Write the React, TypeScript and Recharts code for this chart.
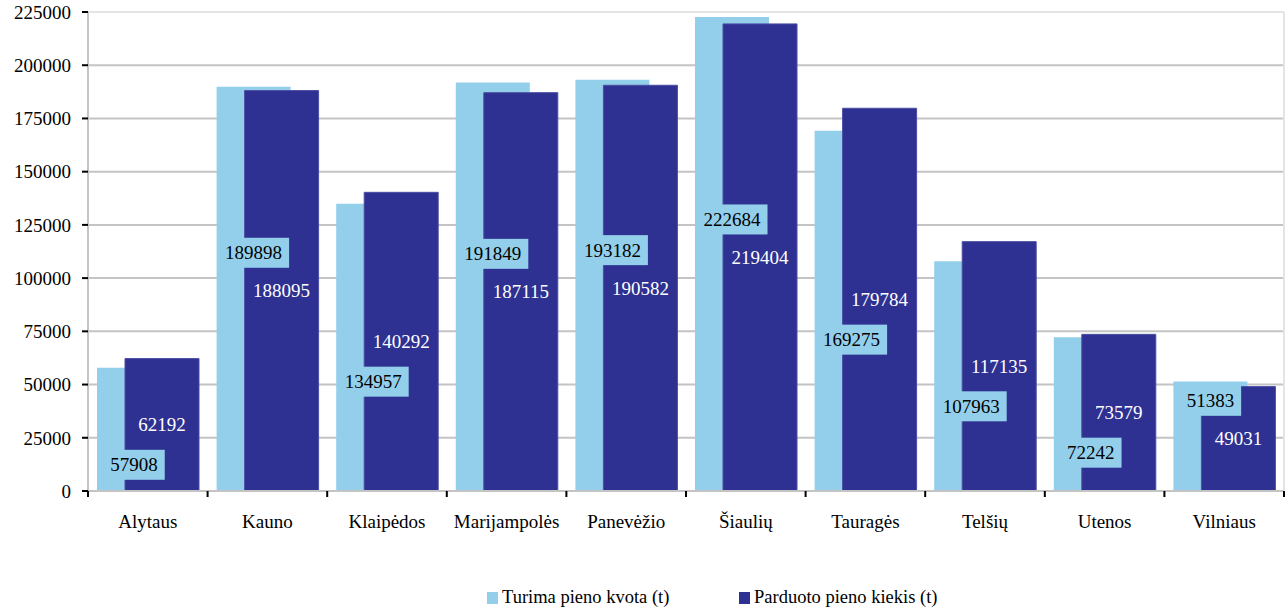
import { BarChart, Bar, XAxis, YAxis, CartesianGrid, Legend, LabelList, ReferenceLine } from 'recharts';

const regions = ['Alytaus', 'Kauno', 'Klaipėdos', 'Marijampolės', 'Panevėžio', 'Šiaulių', 'Tauragės', 'Telšių', 'Utenos', 'Vilniaus'];
const quota = [57908, 189898, 134957, 191849, 193182, 222684, 169275, 107963, 72242, 51383];
const sold = [62192, 188095, 140292, 187115, 190582, 219404, 179784, 117135, 73579, 49031];
const yTicks = [0, 25000, 50000, 75000, 100000, 125000, 150000, 175000, 200000, 225000];

const seriesNames = ['Turima pieno kvota (t)', 'Parduoto pieno kiekis (t)'];
const LIGHT = '#93cfeb';
const DARK = '#2e3191';
const FONT = 'Liberation Serif, Tinos, Times New Roman, serif';
const BAR_SIZE = 74;
const BAR_GAP = -46;

const data = regions.map((r, i) => ({ region: r, quota: quota[i], sold: sold[i] }));

// both value labels are drawn from the dark series so the light boxes sit on top of the dark bars
function PairLabel(props: any) {
    const vb = props.viewBox ?? props;
    const { x, y, width, height } = vb;
    const i = props.index;
    const q = quota[i];
    const s = sold[i];
    const darkMid = y + height / 2;
    const lightX = x - (BAR_SIZE + BAR_GAP) + width / 2;
    const lightY = q > s ? darkMid - 38 : darkMid + 40;
    const txt = String(q);
    const boxW = txt.length * 9.5 + 14;
    return (
        <g>
            <rect x={lightX - boxW / 2} y={lightY - 15} width={boxW} height={30} fill={LIGHT} />
            <text x={lightX} y={lightY} dy="0.35em" textAnchor="middle" fontFamily={FONT} fontSize={19} fill="#000">{txt}</text>
            <text x={x + width / 2} y={darkMid} dy="0.35em" textAnchor="middle" fontFamily={FONT} fontSize={19} fill="#fff">{String(s)}</text>
        </g>
    );
}

function CategoryTick(props: any) {
    const { x, y, payload, index } = props;
    const half = payload?.offset ?? 59.8;
    return (
        <g>
            <line x1={x - half} x2={x - half} y1={y} y2={y + 6} stroke="#000" strokeWidth={2} />
            {index === regions.length - 1 && (
                <line x1={x + half} x2={x + half} y1={y} y2={y + 6} stroke="#000" strokeWidth={2} />
            )}
            <text x={x} y={y + 30} dy="0.35em" textAnchor="middle" fontFamily={FONT} fontSize={19} fill="#000">{payload.value}</text>
        </g>
    );
}

function LegendContent() {
    const items = [
        { name: seriesNames[0], color: LIGHT, left: 487 },
        { name: seriesNames[1], color: DARK, left: 739 },
    ];
    return (
        <div style={{ position: 'relative', height: 24, fontFamily: FONT, fontSize: 18.5, color: '#000' }}>
            {items.map((it) => (
                <div key={it.name} style={{ position: 'absolute', left: it.left, top: 0, display: 'flex', alignItems: 'center', whiteSpace: 'nowrap' }}>
                    <span style={{ display: 'inline-block', width: 11, height: 12, background: it.color, marginRight: 4 }} />
                    <span>{it.name}</span>
                </div>
            ))}
        </div>
    );
}

export default function App() {
    return (
        <div style={{ position: 'absolute', left: 0, top: 0, width: 1286, height: 611, background: '#fff' }}>
            <BarChart
                width={1286}
                height={611}
                data={data}
                margin={{ top: 12, right: 1, bottom: 60, left: 0 }}
                barSize={BAR_SIZE}
                barGap={BAR_GAP}
            >
                <CartesianGrid vertical={false} stroke="#c4c4c4" strokeWidth={2} horizontalValues={yTicks.slice(0, -1)} />
                <ReferenceLine y={225000} stroke="#e4e4e4" strokeWidth={2} />
                <XAxis
                    dataKey="region"
                    height={60}
                    tickSize={0}
                    tickMargin={0}
                    tickLine={false}
                    axisLine={{ stroke: '#c4c4c4', strokeWidth: 2 }}
                    tick={<CategoryTick />}
                    interval={0}
                />
                <YAxis
                    width={88}
                    domain={[0, 225000]}
                    ticks={yTicks}
                    interval={0}
                    tickSize={6}
                    tickMargin={11}
                    tickLine={{ stroke: '#000', strokeWidth: 2 }}
                    axisLine={{ stroke: '#c4c4c4', strokeWidth: 2 }}
                    tick={{ fill: '#000', fontFamily: FONT, fontSize: 19 }}
                />
                <YAxis
                    yAxisId="right"
                    orientation="right"
                    width={1}
                    domain={[0, 225000]}
                    tick={false}
                    tickLine={false}
                    axisLine={{ stroke: '#e4e4e4', strokeWidth: 2 }}
                />
                <Legend layout="horizontal" verticalAlign="middle" align="center" content={<LegendContent />} wrapperStyle={{ top: 587, left: 0, width: 1286 }} />
                <Bar dataKey="quota" name={seriesNames[0]} fill={LIGHT} isAnimationActive={false} />
                <Bar dataKey="sold" name={seriesNames[1]} fill={DARK} stroke="#4a4ea3" strokeWidth={1} isAnimationActive={false}>
                    <LabelList dataKey="sold" content={<PairLabel />} />
                </Bar>
            </BarChart>
        </div>
    );
}
